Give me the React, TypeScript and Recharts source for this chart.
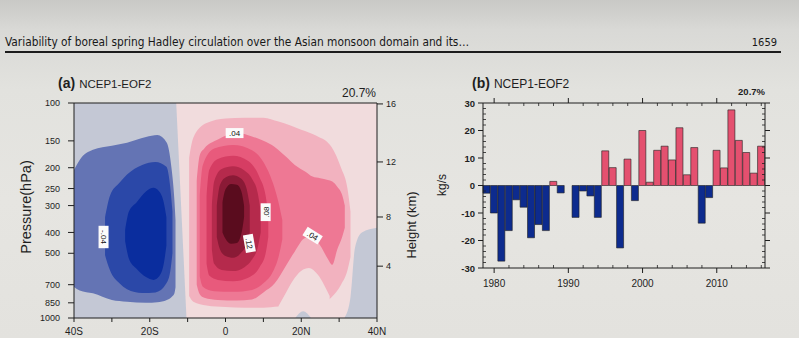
import React from "react";
import {
  Area,
  Bar,
  BarChart,
  Cell,
  ComposedChart,
  ReferenceDot,
  XAxis,
  YAxis,
} from "recharts";

// ---------- panel (a): EOF2 pattern, shaded bands as [lat, top hPa, bottom hPa] ----------
const NEG_BG = [[-40, 100, 1000], [-10, 100, 1000]];
const POS_BG = [[-13, 100, 101], [-10.3, 100, 1000], [40, 100, 1000]];
const NEG_EAST = [[31.5, 990, 1000], [33, 800, 1000], [34.2, 470, 1000], [36, 400, 1000], [40, 380, 1000]];
const NEG_SURF = [[18.5, 995, 1000], [20.5, 930, 1000], [22.5, 995, 1000]];

const NEG_02 = [
  [-40, 205, 718], [-38.5, 184, 745], [-35, 165, 768], [-30, 158, 825], [-26, 153, 840],
  [-21, 144, 850], [-18, 141, 845], [-15.5, 153, 825], [-14.3, 198, 800], [-13.5, 282, 770],
  [-13.2, 350, 720],
];
const NEG_04 = [
  [-31.8, 340, 510], [-30.5, 270, 600], [-28, 235, 690], [-26, 215, 735], [-22, 194, 765],
  [-18.5, 188, 760], [-15.6, 198, 690], [-14.6, 245, 610], [-14, 320, 500],
];
const NEG_06 = [
  [-26.5, 390, 440], [-25.5, 320, 530], [-23.5, 290, 590], [-21, 258, 645], [-19, 248, 665],
  [-17.5, 258, 640], [-16.3, 290, 560], [-15.6, 340, 460],
];

const POS_02 = [
  [-9.6, 180, 790], [-8.5, 145, 840], [-5, 124, 875], [0, 118, 890], [5, 117, 895],
  [10, 117, 895], [14, 122, 885], [20, 133, 875], [24, 142, 865], [28, 160, 800],
  [30.5, 200, 700], [32.2, 250, 600], [33, 320, 520],
];
// the pale notch under the northern branch
const POS_NOTCH = [
  [14, 880, 900], [16, 760, 900], [18.3, 650, 900], [20.5, 595, 900], [22, 585, 900],
  [24.4, 630, 900], [26, 700, 900], [27.5, 790, 900],
];
const POS_04 = [
  [-7.6, 230, 700], [-6.8, 175, 775], [-5.6, 163, 805], [-2, 148, 825], [3, 138, 830],
  [7, 143, 820], [10, 150, 760], [13, 160, 690], [16, 178, 570], [18.3, 194, 490],
  [21, 208, 425], [23, 220, 420], [25, 224, 460], [27, 228, 530], [28.2, 232, 566],
  [29.5, 245, 480], [30.8, 268, 420], [31.5, 300, 380],
];
const POS_06 = [
  [-6.8, 270, 640], [-6, 195, 715], [-3, 163, 750], [2, 157, 755], [7, 166, 740],
  [10, 188, 690], [12.5, 235, 610], [14, 290, 520], [15, 350, 430],
];
const POS_08 = [
  [-5, 270, 560], [-4.3, 205, 635], [-2, 182, 665], [2, 176, 675], [6, 186, 650],
  [9, 222, 580], [10.6, 270, 500], [11.3, 330, 420],
];
const POS_10 = [
  [-3.6, 300, 480], [-3, 232, 560], [-1, 203, 598], [2, 197, 605], [5, 206, 580],
  [7, 225, 535], [8.5, 262, 470], [9.3, 320, 400],
];
const POS_12 = [
  [-2.3, 300, 420], [-1.5, 242, 478], [0, 222, 515], [2, 217, 525], [4, 224, 500],
  [5.5, 248, 455], [6.4, 300, 400],
];
const POS_14 = [
  [-0.8, 290, 400], [0, 252, 428], [1.5, 238, 452], [3, 240, 448], [4.2, 258, 405],
  [4.9, 300, 340],
];

const LIGHT_BLUE = "#c4c8d5";
const PALE_PINK = "#f1dcdd";

const REGIONS = [
  { key: "nbg", fill: LIGHT_BLUE, curve: "linear", pts: NEG_BG },
  { key: "pbg", fill: PALE_PINK, curve: "linear", pts: POS_BG },
  { key: "ne", fill: LIGHT_BLUE, curve: "monotone", pts: NEG_EAST },
  { key: "ns", fill: LIGHT_BLUE, curve: "monotone", pts: NEG_SURF },
  { key: "n02", fill: "#6474b4", curve: "monotone", pts: NEG_02 },
  { key: "n04", fill: "#2b48a8", curve: "monotone", pts: NEG_04 },
  { key: "n06", fill: "#0a2d9e", curve: "monotone", pts: NEG_06 },
  { key: "p02", fill: "#f2b2bf", curve: "monotone", pts: POS_02 },
  { key: "pn", fill: PALE_PINK, curve: "monotone", pts: POS_NOTCH },
  { key: "p04", fill: "#ee7894", curve: "monotone", pts: POS_04 },
  { key: "p06", fill: "#e85a7c", curve: "monotone", pts: POS_06 },
  { key: "p08", fill: "#d63d63", curve: "monotone", pts: POS_08 },
  { key: "p10", fill: "#b52a4c", curve: "monotone", pts: POS_10 },
  { key: "p12", fill: "#8a1a36", curve: "monotone", pts: POS_12 },
  { key: "p14", fill: "#5a0c1e", curve: "monotone", pts: POS_14 },
];

const CONTOUR_LABELS = [
  { lat: 2.4, p: 138, text: ".04", angle: 0 },
  { lat: -32.2, p: 420, text: "-.04", angle: 90 },
  { lat: 10.6, p: 322, text: ".08", angle: -90 },
  { lat: 6.3, p: 450, text: ".12", angle: 80 },
  { lat: 23, p: 414, text: ".04", angle: 32 },
];

const PRESSURE_TICKS = [100, 150, 200, 250, 300, 400, 500, 700, 850, 1000];
const HEIGHT_LABELS = [16, 12, 8, 4];
const HEIGHT_AT_HPA = [101, 188, 339, 574];
const LAT_TICKS = [-40, -30, -20, -10, 0, 10, 20, 30, 40];
const LAT_NAMES: Record<number, string> = { [-40]: "40S", [-20]: "20S", 0: "0", 20: "20N", 40: "40N" };

const allLats = Array.from(new Set(REGIONS.flatMap((r) => r.pts.map((p) => p[0])))).sort((a, b) => a - b);
const contourRows = allLats.map((lat) => {
  const row: Record<string, any> = { lat };
  REGIONS.forEach((r) => {
    const pt = r.pts.find((p) => p[0] === lat);
    row[r.key] = pt ? [pt[1], pt[2]] : null;
  });
  return row;
});

// ---------- panel (b): PC2 time series (kg/s) ----------
const YEARS = [
  1979, 1980, 1981, 1982, 1983, 1984, 1985, 1986, 1987, 1988, 1989, 1990, 1991, 1992, 1993,
  1994, 1995, 1996, 1997, 1998, 1999, 2000, 2001, 2002, 2003, 2004, 2005, 2006, 2007, 2008,
  2009, 2010, 2011, 2012, 2013, 2014, 2015, 2016,
];
const PC2 = [
  -2.8, -10, -27.5, -16.4, -5.2, -7.9, -19, -14.2, -16.4, 1.5, -2.7, 0, -11.6, -2, -3.8,
  -11.6, 12.6, 6.5, -22.7, 9.6, -5.5, 20, 1.2, 12.8, 14.3, 9.3, 21, 3.9, 13.8, -13.7,
  -4.4, 12.8, 6.4, 27.5, 16.4, 12, 4.5, 14.3,
];
const PC_TICKS = [
  -30, -28, -26, -24, -22, -20, -18, -16, -14, -12, -10, -8, -6, -4, -2, 0,
  2, 4, 6, 8, 10, 12, 14, 16, 18, 20, 22, 24, 26, 28, 30,
];
const barRows = YEARS.map((year, i) => ({ year, v: PC2[i] }));

const INK = "#1e1e1e";
const SANS = "'Liberation Sans', Arial, Helvetica, sans-serif";

function ContourLabel({ cx, cy, text, angle }: any) {
  const w = text.length * 4.6 + 4;
  return (
    <g transform={`translate(${cx},${cy}) rotate(${angle})`}>
      <rect x={-w / 2} y={-5} width={w} height={10} fill="#fbfbfb" />
      <text x={0} y={3} textAnchor="middle" fontSize={8} fontFamily={SANS} fill="#111">
        {text}
      </text>
    </g>
  );
}

function YearTick({ x, y, payload, side }: any) {
  const yr = payload.value;
  if (yr % 2 !== 0) return <g />;
  const major = yr % 10 === 0;
  const out = side === "bottom" ? 1 : -1;
  return (
    <g>
      {major ? (
        <line x1={x} x2={x} y1={y} y2={y + out * 5} stroke={INK} strokeWidth={1} />
      ) : (
        <line x1={x} x2={x} y1={y} y2={y - out * 3} stroke={INK} strokeWidth={0.8} />
      )}
      {major && side === "bottom" && (
        <text x={x} y={y + 19} textAnchor="middle" fontSize={10} fontFamily={SANS} fill={INK}>
          {yr}
        </text>
      )}
    </g>
  );
}

function ValueTick({ x, y, payload, side }: any) {
  const v = payload.value;
  const major = v % 10 === 0;
  const out = side === "left" ? -1 : 1;
  return (
    <g>
      {major ? (
        <line x1={x} x2={x + out * 5} y1={y} y2={y} stroke={INK} strokeWidth={1} />
      ) : (
        <line x1={x} x2={x - out * 3} y1={y} y2={y} stroke={INK} strokeWidth={0.8} />
      )}
      {major && side === "left" && (
        <text x={x - 8} y={y + 3.5} textAnchor="end" fontSize={9.5} fontWeight={600} fontFamily={SANS} fill={INK}>
          {v}
        </text>
      )}
    </g>
  );
}

function PatternPanel() {
  return (
    <ComposedChart width={440} height={278} data={contourRows} margin={{ top: 38, right: 23, bottom: 0, left: 30 }}>
      <XAxis
        xAxisId="lat"
        dataKey="lat"
        type="number"
        domain={[-40, 40]}
        allowDataOverflow
        ticks={LAT_TICKS}
        interval={0}
        height={20}
        tickSize={4}
        tickMargin={6}
        stroke={INK}
        tick={{ fill: INK, fontSize: 10, fontFamily: SANS }}
        tickFormatter={(v) => LAT_NAMES[v] ?? ""}
      />
      <XAxis
        xAxisId="top"
        orientation="top"
        type="number"
        domain={[-40, 40]}
        allowDataOverflow
        ticks={LAT_TICKS}
        height={5}
        tickSize={4}
        tick={false}
        stroke={INK}
      />
      <YAxis
        yAxisId="p"
        scale="log"
        domain={[100, 1000]}
        allowDataOverflow
        reversed
        ticks={PRESSURE_TICKS}
        interval={0}
        width={44}
        tickSize={6}
        tickMargin={8}
        stroke={INK}
        tick={{ fill: INK, fontSize: 9, fontFamily: SANS }}
      />
      <YAxis
        yAxisId="h"
        orientation="right"
        scale="log"
        domain={[100, 1000]}
        allowDataOverflow
        reversed
        ticks={HEIGHT_AT_HPA}
        interval={0}
        width={40}
        tickSize={6}
        tickMargin={3}
        stroke={INK}
        tick={{ fill: INK, fontSize: 9, fontFamily: SANS }}
        tickFormatter={(_v, i) => String(HEIGHT_LABELS[i])}
      />
      {REGIONS.map((r) => (
        <Area
          key={r.key}
          xAxisId="lat"
          yAxisId="p"
          dataKey={r.key}
          type={r.curve as any}
          connectNulls
          stroke="none"
          fill={r.fill}
          fillOpacity={1}
          dot={false}
          activeDot={false}
          isAnimationActive={false}
        />
      ))}
      {CONTOUR_LABELS.map((l, i) => (
        <ReferenceDot
          key={i}
          xAxisId="lat"
          yAxisId="p"
          x={l.lat}
          y={l.p}
          r={1}
          shape={(props: any) => <ContourLabel cx={props.cx} cy={props.cy} text={l.text} angle={l.angle} />}
        />
      ))}
    </ComposedChart>
  );
}

function SeriesPanel() {
  return (
    <BarChart
      width={379}
      height={278}
      data={barRows}
      margin={{ top: 38, right: 14, bottom: 50, left: 33 }}
      barCategoryGap={0}
      barGap={0}
    >
      <XAxis
        dataKey="year"
        interval={0}
        height={20}
        tickSize={0}
        tickMargin={0}
        stroke={INK}
        tick={(props: any) => <YearTick {...props} side="bottom" />}
      />
      <XAxis
        xAxisId="top"
        dataKey="year"
        orientation="top"
        interval={0}
        height={5}
        tickSize={0}
        tickMargin={0}
        stroke={INK}
        tick={(props: any) => <YearTick {...props} side="top" />}
      />
      <YAxis
        domain={[-30, 30]}
        allowDataOverflow
        ticks={PC_TICKS}
        interval={0}
        width={30}
        tickSize={0}
        tickMargin={0}
        stroke={INK}
        tick={(props: any) => <ValueTick {...props} side="left" />}
      />
      <YAxis
        yAxisId="r"
        orientation="right"
        domain={[-30, 30]}
        allowDataOverflow
        ticks={PC_TICKS}
        interval={0}
        width={20}
        tickSize={0}
        tickMargin={0}
        stroke={INK}
        tick={(props: any) => <ValueTick {...props} side="right" />}
      />
      <Bar dataKey="v" stroke={INK} strokeWidth={0.6} isAnimationActive={false}>
        {barRows.map((d) => (
          <Cell key={d.year} fill={d.v >= 0 ? "#e4506f" : "#0d2b8e"} />
        ))}
      </Bar>
    </BarChart>
  );
}

export default function App() {
  return (
    <div
      style={{
        position: "fixed",
        left: 0,
        top: 0,
        width: 799,
        height: 338,
        overflow: "hidden",
        background:
          "linear-gradient(180deg, #c9c9c6 0px, #d9d9d6 30px, #e2e2de 90px, #e6e5e1 200px, #e3e2de 338px)",
      }}
    >
      <div style={{ position: "absolute", left: 0, top: 60 }}>
        <PatternPanel />
      </div>
      <div style={{ position: "absolute", left: 420, top: 60 }}>
        <SeriesPanel />
      </div>
      <svg width={799} height={338} style={{ position: "absolute", left: 0, top: 0, pointerEvents: "none" }}>
        <text
          x={5}
          y={46}
          fontSize={11.5}
          fontFamily="'DejaVu Sans Condensed', 'DejaVu Sans', sans-serif"
          fill="#181818"
          textLength={464}
          lengthAdjust="spacingAndGlyphs"
        >
          Variability of boreal spring Hadley circulation over the Asian monsoon domain and its…
        </text>
        <text x={777} y={46} textAnchor="end" fontSize={11} fontFamily="'DejaVu Sans Condensed', sans-serif" fill="#181818">
          1659
        </text>
        <rect x={5} y={51} width={776} height={2} fill="#1c1c1c" />

        <text x={58} y={88} fontFamily={SANS} fill={INK}>
          <tspan fontSize={14} fontWeight={700}>(a)</tspan>
          <tspan fontSize={11.5} dx={4}>NCEP1-EOF2</tspan>
        </text>
        <text x={376} y={97} textAnchor="end" fontSize={12} fontFamily={SANS} fill={INK}>
          20.7%
        </text>
        <text x={31} y={207} textAnchor="middle" fontSize={14.5} fontFamily={SANS} fill={INK} transform="rotate(-90 31 207)">
          Pressure(hPa)
        </text>
        <text x={416} y={225} textAnchor="middle" fontSize={13} fontFamily={SANS} fill={INK} transform="rotate(-90 416 225)">
          Height (km)
        </text>

        <text x={472} y={88} fontFamily={SANS} fill={INK}>
          <tspan fontSize={14} fontWeight={700}>(b)</tspan>
          <tspan fontSize={12} dx={4}>NCEP1-EOF2</tspan>
        </text>
        <text x={765} y={95} textAnchor="end" fontSize={9.5} fontWeight={700} fontFamily={SANS} fill={INK}>
          20.7%
        </text>
        <text x={446} y={185} textAnchor="middle" fontSize={12} fontFamily={SANS} fill={INK} transform="rotate(-90 446 185)">
          kg/s
        </text>
      </svg>
    </div>
  );
}
